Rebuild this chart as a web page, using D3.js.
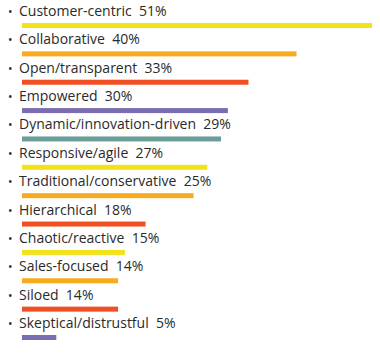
<!DOCTYPE html>
<html><head><meta charset="utf-8">
<script src="https://cdn.jsdelivr.net/npm/d3@7"></script>
<style>html,body{margin:0;padding:0;background:#fff;}</style>
</head><body>
<svg id="c" width="380" height="355"></svg>
<script>
const categories = ["Customer-centric","Collaborative","Open/transparent","Empowered","Dynamic/innovation-driven","Responsive/agile","Traditional/conservative","Hierarchical","Chaotic/reactive","Sales-focused","Siloed","Skeptical/distrustful"];
const values = [51,40,33,30,29,27,25,18,15,14,14,5];
const colors = ["#f2e21a","#f8ab1f","#f04e23","#7a6db2","#6b9e9a","#f2e21a","#f8ab1f","#f04e23","#f2e21a","#f8ab1f","#f04e23","#7a6db2"];

const svg = d3.select("#c");
const x = d3.scaleLinear().domain([0,51]).range([22,372]);
const y = d3.scalePoint().domain(categories).range([23,335]);
const barH = 5;

const g = svg.selectAll("g.row").data(categories).join("g").attr("class","row");
g.append("rect")
  .attr("x", x(0))
  .attr("y", d => y(d))
  .attr("width", (d,i) => x(values[i]) - x(0))
  .attr("height", barH)
  .attr("fill", (d,i) => colors[i]);
g.append("text")
  .attr("x", 8)
  .attr("y", d => y(d) - 7)
  .attr("font-family", "Open Sans, sans-serif")
  .attr("font-size", 12)
  .attr("fill", "#2a2a2a")
  .text("•");
g.append("text")
  .attr("x", 19)
  .attr("y", d => y(d) - 7)
  .attr("font-family", "Open Sans, sans-serif")
  .attr("font-size", 14)
  .attr("fill", "#2a2a2a")
  .attr("xml:space","preserve")
  .style("white-space","pre")
  .text((d,i) => d + "  " + values[i] + "%");
</script>
</body></html>
